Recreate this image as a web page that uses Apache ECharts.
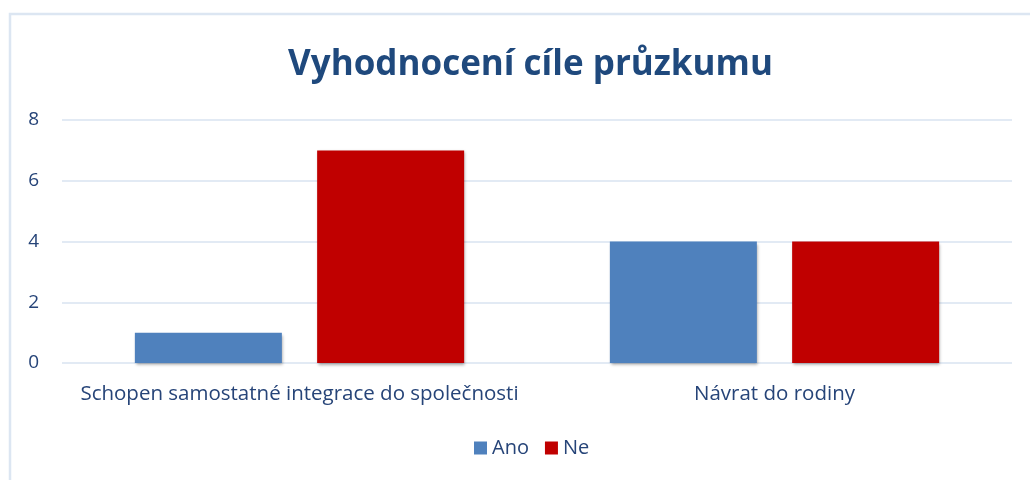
<!DOCTYPE html>
<html>
<head>
<meta charset="utf-8">
<script src="https://cdn.jsdelivr.net/npm/echarts@6/dist/echarts.min.js"></script>
<style>
  html, body { margin: 0; padding: 0; background: #fff; }
  #chart { width: 1030px; height: 480px; }
</style>
</head>
<body>
<div id="chart"></div>
<script>
const categories = ['Schopen samostatné integrace do společnosti', 'Návrat do rodiny'];
const seriesNames = ['Ano', 'Ne'];
const anoValues = [1, 4];
const neValues = [7, 4];
const yTicks = [0, 2, 4, 6, 8];

const textColor = '#264478';
const font = '"Open Sans", "Noto Sans", sans-serif';
const barShadow = {
    shadowBlur: 3,
    shadowColor: 'rgba(0, 0, 0, 0.35)',
    shadowOffsetX: 1,
    shadowOffsetY: 2
};

const chart = echarts.init(document.getElementById('chart'));
chart.setOption({
    animation: false,
    textStyle: { fontFamily: font },
    graphic: [{
        type: 'rect',
        shape: { x: 10, y: 14, width: 1040, height: 500 },
        style: { fill: 'none', stroke: '#DCE6F2', lineWidth: 2.5 },
        silent: true
    }],
    title: {
        text: 'Vyhodnocení cíle průzkumu',
        left: 283,
        top: 43,
        textStyle: {
            color: '#1F497D',
            fontSize: 35,
            fontWeight: 'bold',
            fontFamily: font
        }
    },
    legend: {
        bottom: 17,
        left: 469,
        itemWidth: 13,
        itemHeight: 13,
        itemGap: 16,
        icon: 'rect',
        textStyle: { color: textColor, fontSize: 20, fontFamily: font },
        data: seriesNames
    },
    grid: {
        left: 62,
        right: 18,
        top: 120,
        bottom: 117
    },
    xAxis: {
        type: 'category',
        data: categories,
        axisLine: { show: false },
        axisTick: { show: false },
        axisLabel: {
            color: textColor,
            fontSize: 20.5,
            margin: 21,
            interval: 0,
            fontFamily: font
        }
    },
    yAxis: {
        type: 'value',
        min: yTicks[0],
        max: yTicks[yTicks.length - 1],
        interval: 2,
        axisLine: { show: false },
        axisTick: { show: false },
        axisLabel: {
            color: textColor,
            fontSize: 19,
            margin: 23,
            fontFamily: font
        },
        splitLine: { lineStyle: { color: '#D9E3F0', width: 1.5 } }
    },
    series: [
        {
            name: seriesNames[0],
            type: 'bar',
            data: anoValues,
            barWidth: 147,
            barGap: '24%',
            itemStyle: Object.assign({ color: '#4F81BD' }, barShadow)
        },
        {
            name: seriesNames[1],
            type: 'bar',
            data: neValues,
            barWidth: 147,
            barGap: '24%',
            itemStyle: Object.assign({ color: '#C00000' }, barShadow)
        }
    ]
});
</script>
</body>
</html>
